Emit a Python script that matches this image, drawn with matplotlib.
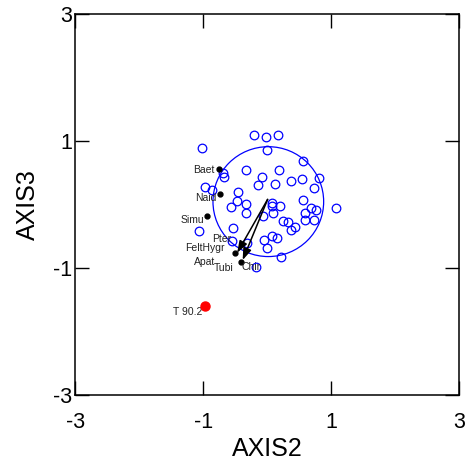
import matplotlib
matplotlib.use("Agg")
import matplotlib.pyplot as plt
from matplotlib.patches import Circle

plt.rcParams["font.family"] = ["Liberation Sans", "DejaVu Sans"]
plt.rcParams["axes.unicode_minus"] = False

# sample scores (open blue circles)
site_x = [-0.21, -0.02, 0.17, -1.02, 0.00, 0.56, -0.34, 0.19, -0.70, -0.67,
          0.81, 0.55, 0.37, -0.08, -0.15, 0.12, -0.97, -0.86, 0.73, -0.46,
          -0.47, 0.56, 0.07, 0.08, 0.20, -0.34, -0.57, -0.34, 0.09, 0.69,
          0.76, 1.08, 0.59, -0.07, 0.25, 0.33, 0.59, 0.73, 0.43, 0.37,
          -0.54, -1.07, -0.55, -0.05, 0.08, 0.15, -0.32, -0.01, 0.21, -0.17]
site_y = [1.10, 1.07, 1.10, 0.89, 0.86, 0.69, 0.54, 0.55, 0.50, 0.43,
          0.41, 0.40, 0.37, 0.43, 0.31, 0.32, 0.28, 0.23, 0.26, 0.20,
          0.06, 0.07, 0.02, -0.02, -0.02, 0.00, -0.04, -0.13, -0.13, -0.06,
          -0.08, -0.06, -0.14, -0.18, -0.26, -0.27, -0.24, -0.25, -0.36, -0.40,
          -0.37, -0.42, -0.58, -0.56, -0.50, -0.52, -0.61, -0.68, -0.83, -0.98]

# species scores (black dots)
spec_x = [-0.76, -0.74, -0.94, -0.50, -0.41]
spec_y = [0.56, 0.17, -0.18, -0.77, -0.91]

# species labels
spec_names = ["Baet", "Naid", "Simu", "Pter", "FeltHygr", "Apat", "Tubi", "Chir"]
label_x = [-0.82, -0.80, -0.98, -0.56, -0.66, -0.82, -0.53, -0.41]
label_y = [0.54, 0.10, -0.24, -0.54, -0.69, -0.90, -1.00, -0.98]
label_ha = ["right", "right", "right", "right", "right", "right", "right", "left"]

# environmental vectors
arrow_start = (0.005, 0.08)
arrow_end_x = [-0.47, -0.385]
arrow_end_y = [-0.76, -0.875]

# supplementary point
supp_x, supp_y, supp_name = -0.97, -1.60, "T 90.2"

# circle of sites
circ_cx, circ_cy, circ_r = 0.016, 0.045, 0.865

fig = plt.figure(figsize=(4.71, 4.65), dpi=100)
ax = fig.add_axes([0.160, 0.1505, 0.815, 0.8195])

ax.plot(site_x, site_y, "o", mfc="none", mec="#0000ff", ms=6.2, mew=0.9, zorder=3)
ax.add_patch(Circle((circ_cx, circ_cy), circ_r, fill=False, ec="#0000ff", lw=0.9, zorder=2))

for ex, ey in zip(arrow_end_x, arrow_end_y):
    ax.annotate("", xy=(ex, ey), xytext=arrow_start,
                arrowprops=dict(arrowstyle="-|>,head_length=0.7,head_width=0.25",
                                color="black", lw=1.1, shrinkA=0, shrinkB=0),
                zorder=4)

ax.plot(spec_x, spec_y, "o", color="black", ms=3.5, zorder=5)
for name, lx, ly, ha in zip(spec_names, label_x, label_y, label_ha):
    ax.text(lx, ly, name, fontsize=7.5, ha=ha, va="center", color="#222222", zorder=6)

ax.plot([supp_x], [supp_y], "o", color="#ff0000", ms=6.5, zorder=5)
ax.text(-1.02, -1.70, supp_name, fontsize=7.5, ha="right", va="center", color="#222222")

ax.set_xlim(-3, 3)
ax.set_ylim(-3, 3)
ax.set_xticks([-3, -1, 1, 3])
ax.set_yticks([-3, -1, 1, 3])
ax.tick_params(direction="in", length=10, width=1.0, top=True, right=True,
               labelsize=15.5)
ax.tick_params(axis="x", pad=12)
ax.tick_params(axis="y", pad=2)
for lbl in ax.get_yticklabels():
    lbl.set_verticalalignment("center_baseline")
for s in ax.spines.values():
    s.set_linewidth(1.1)

ax.set_xlabel("AXIS2", fontsize=18, labelpad=3)
ax.set_ylabel("AXIS3", fontsize=18, labelpad=10)

fig.savefig("out.png", dpi=100)
